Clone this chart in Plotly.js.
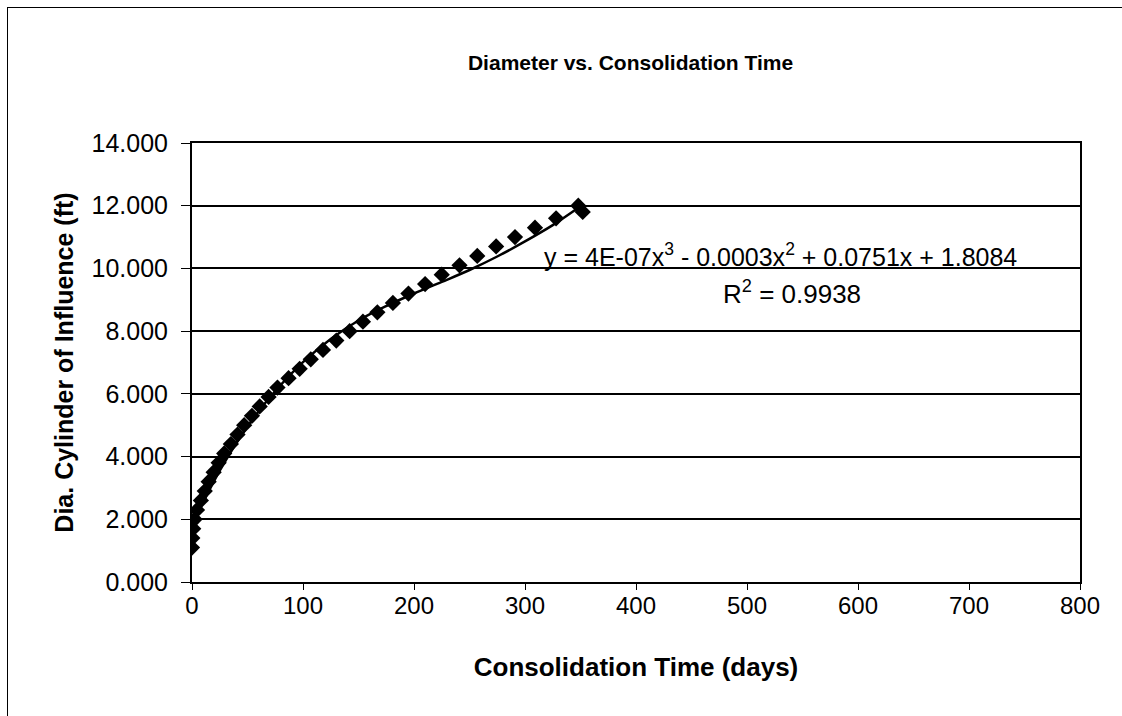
<!DOCTYPE html>
<html>
<head>
<meta charset="utf-8">
<script src="https://cdn.plot.ly/plotly-3.0.1.min.js"></script>
<style>
  html, body { margin: 0; padding: 0; background: #fff; }
  #wrap { position: relative; width: 1122px; height: 716px; overflow: hidden; }
  #chart { position: absolute; left: 0; top: 0; width: 1122px; height: 716px; }
  #frame { position: absolute; left: 7px; top: 7px; width: 1200px; height: 800px;
           border-left: 1.5px solid #000; border-top: 1.5px solid #000; pointer-events: none; }
</style>
</head>
<body>
<div id="wrap">
  <div id="chart"></div>
  <div id="frame"></div>
</div>
<script>
// Measured data: consolidation time (days) vs diameter of cylinder of influence (ft)
const timeDays = [0, 0.3, 1.1, 2.4, 4.5, 8, 11.5, 15, 19.5, 24, 29, 35, 41, 47, 54, 61, 69, 77,
                  87, 97, 107, 118, 130, 142, 154, 167, 181, 195, 210, 225, 241, 257, 274, 291,
                  309, 328, 348, 352];
const diameterFt = [1.10, 1.40, 1.70, 2.00, 2.30, 2.60, 2.90, 3.20, 3.50, 3.80, 4.10, 4.40, 4.70,
                    5.00, 5.30, 5.60, 5.90, 6.20, 6.50, 6.80, 7.10, 7.40, 7.70, 8.00, 8.30, 8.60,
                    8.90, 9.20, 9.50, 9.80, 10.10, 10.40, 10.70, 11.00, 11.30, 11.60, 12.00, 11.80];

// Polynomial trendline
const trendTime = [0, 25, 50, 75, 100, 125, 150, 175, 200, 225, 250, 275, 300, 325, 350];
const trendDiameter = [1.81, 3.55, 4.96, 6.09, 7.01, 7.75, 8.34, 8.80, 9.20, 9.57, 9.95, 10.38,
                       10.86, 11.38, 11.98];

const xTicks = [0, 100, 200, 300, 400, 500, 600, 700, 800];
const yTicks = [0, 2, 4, 6, 8, 10, 12, 14];
const yTickText = ["0.000", "2.000", "4.000", "6.000", "8.000", "10.000", "12.000", "14.000"];

const titleText = "Diameter vs. Consolidation Time";
const xTitle = "Consolidation Time (days)";
const yTitle = "Dia. Cylinder of Influence (ft)";
const eqText = "y = 4E-07x<sup>3</sup> - 0.0003x<sup>2</sup> + 0.0751x + 1.8084";
const r2Text = "R<sup>2</sup> = 0.9938";

const FONT = "Liberation Sans, Arial, sans-serif";

const traces = [
  {
    x: timeDays, y: diameterFt, type: "scatter", mode: "markers",
    marker: { symbol: "diamond", size: 12.5, color: "#000" },
    hoverinfo: "skip", showlegend: false
  },
  {
    x: trendTime, y: trendDiameter, type: "scatter", mode: "lines",
    line: { color: "#000", width: 2.5, shape: "spline", smoothing: 1 },
    hoverinfo: "skip", showlegend: false
  }
];

const layout = {
  width: 1122, height: 716,
  margin: { l: 192, r: 42, t: 143, b: 134, pad: 0 },
  paper_bgcolor: "#fff", plot_bgcolor: "#fff",
  font: { family: FONT, color: "#000", size: 20 },
  title: {
    text: "<b>" + titleText + "</b>",
    font: { family: FONT, size: 21, color: "#000" },
    xref: "container", x: 0.562, xanchor: "center",
    yref: "container", y: 0.913, yanchor: "middle"
  },
  xaxis: {
    range: [0, 800], tickvals: xTicks, ticktext: xTicks.map(String),
    showgrid: false, zeroline: false,
    showline: true, linecolor: "#000", linewidth: 2, mirror: true,
    ticks: "outside", ticklen: 6, tickcolor: "#000", tickwidth: 1,
    ticklabelstandoff: -5,
    tickfont: { family: FONT, size: 24, color: "#000" },
    title: { text: "<b>" + xTitle + "</b>", font: { family: FONT, size: 26, color: "#000" }, standoff: 40 }
  },
  yaxis: {
    range: [0, 14], tickvals: yTicks, ticktext: yTickText,
    showgrid: true, gridcolor: "#000", gridwidth: 2, zeroline: false,
    showline: true, linecolor: "#000", linewidth: 2, mirror: true,
    ticks: "outside", ticklen: 9, tickcolor: "#000", tickwidth: 1,
    ticklabelstandoff: 8,
    tickfont: { family: FONT, size: 25, color: "#000" },
    title: { text: "<b>" + yTitle + "</b>", font: { family: FONT, size: 25, color: "#000" }, standoff: 11 }
  },
  annotations: [
    { text: eqText, xref: "paper", yref: "paper", x: 0.663, y: 0.746,
      xanchor: "center", yanchor: "middle", showarrow: false,
      font: { family: FONT, size: 25, color: "#000" } },
    { text: r2Text, xref: "paper", yref: "paper", x: 0.676, y: 0.660,
      xanchor: "center", yanchor: "middle", showarrow: false,
      font: { family: FONT, size: 26, color: "#000" } }
  ]
};

Plotly.newPlot("chart", traces, layout, { staticPlot: true, displayModeBar: false });
</script>
</body>
</html>
